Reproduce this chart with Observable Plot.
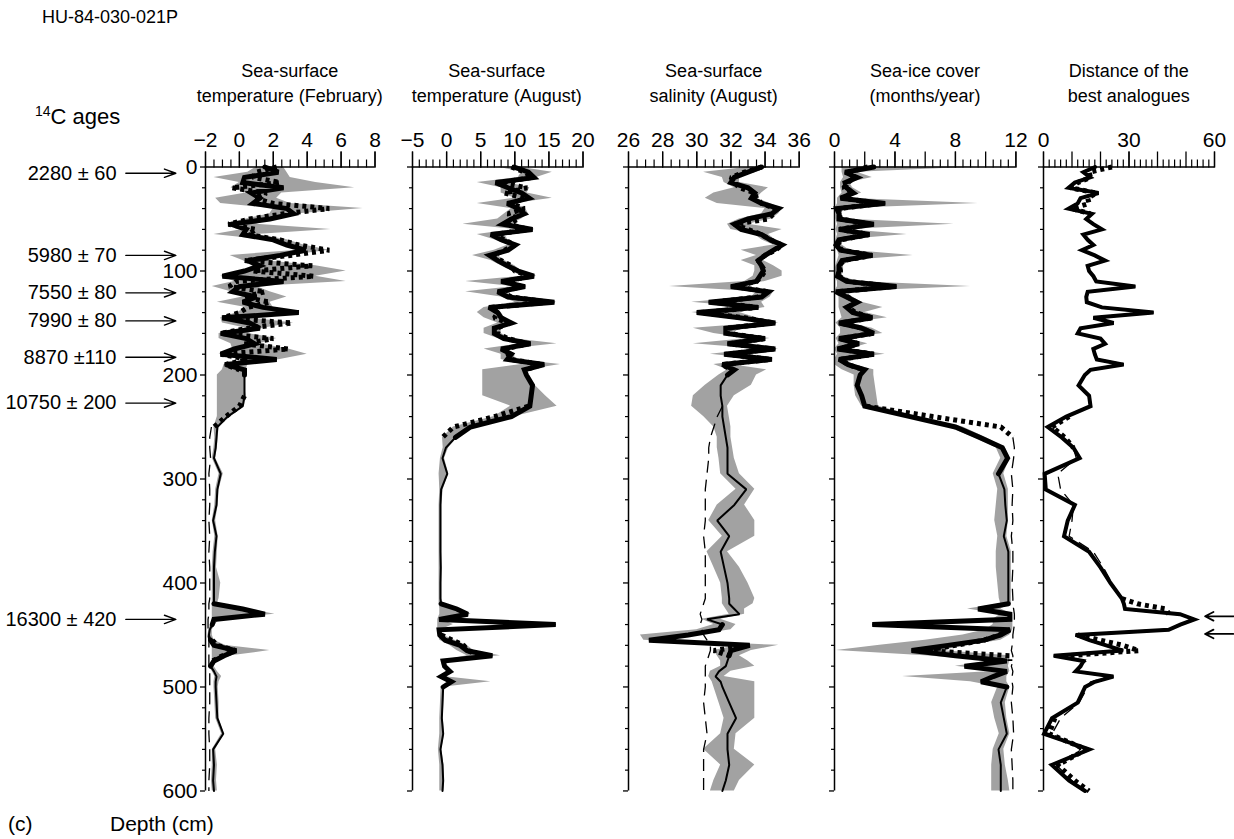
<!DOCTYPE html>
<html><head><meta charset="utf-8">
<script src="https://cdn.jsdelivr.net/npm/d3@7"></script>
<script src="https://cdn.jsdelivr.net/npm/@observablehq/plot@0.6"></script>
<style>
body{margin:0;background:#fff;font-family:"Liberation Sans",Arial,Helvetica,sans-serif;color:#000;}
#root{position:relative;width:1234px;height:839px;overflow:hidden;background:#fff;}
.lbl{position:absolute;white-space:nowrap;}
.title{position:absolute;text-align:center;font-size:18px;line-height:25px;transform:translateX(-50%);white-space:nowrap;}
svg{position:absolute;top:0;}
</style></head>
<body><div id="root"></div>
<script>
const _ = null;
// Core depths (cm)
const depth = [
0,5,10,15,20,25,30,35,40,45,
50,55,60,65,70,75,80,85,90,95,
100,105,110,115,120,125,130,135,140,145,
150,155,160,165,170,175,180,185,190,195,
200,210,220,230,240,250,260,270,280,295,
310,325,340,355,370,385,400,415,
420,425,430,435,440,445,450,455,460,465,
470,475,480,485,490,495,500,
515,530,545,560,575,590,600];

// Panel 1: SST February
const febSolid = [
1.5,2.3,0.3,0.2,2.6,0.7,1.2,0.8,2.8,3.2,
1.8,-0.5,0.4,0.2,2.0,2.8,3.9,2.4,0.5,1.2,
0.3,-1.0,2.6,0.0,-0.4,1.0,0.2,1.4,3.5,-1.0,
0.6,1.2,-1.1,0.4,0.9,-0.3,-1.1,2.2,-0.8,0.3,
0.3,0.3,0.3,0.2,-0.7,-1.3,-1.35,-1.4,-1.5,-1.1,
-1.3,-1.35,-1.55,-1.35,-1.45,-1.5,-1.5,-1.5,
-1.5,0.2,1.5,-1.5,-1.6,-1.75,-1.8,-1.7,-1.5,-0.2,
-0.9,-1.5,-1.7,-1.5,-1.35,-1.4,-1.4,
-1.35,-1.3,-0.95,-1.55,-1.5,-1.55,-1.5];
const febDotted = [
2.2,1.0,0.8,2.4,-0.45,1.6,0.9,2.0,5.3,2.6,
0.6,-0.65,1.0,0.5,2.4,3.5,5.3,3.0,0.3,4.3,
0.8,4.4,-0.2,-0.6,1.5,0.3,1.8,0.5,0.0,-1.0,
3.1,0.5,-1.1,2.0,0.3,2.9,-1.1,0.5,-0.85,0.0,
_,_,0.3,0.0,-0.8,-1.5,_,_,_,_,
_,_,_,_,_,_,_,_,
_,_,_,_,_,_,_,-1.6,-1.3,-0.2,
-1.0,-1.6,_,_,_,_,_,
_,_,_,_,_,_,_];
const febMax = [
2.6,2.8,3.0,4.5,6.8,2.5,2.2,3.0,7.3,3.5,
2.0,1.0,5.4,1.0,2.8,3.8,5.3,3.0,1.5,4.5,
6.3,4.5,6.3,1.0,1.8,2.8,1.8,2.0,3.6,0.5,
3.2,1.4,0.5,2.2,1.2,2.9,4.0,2.4,0.5,0.4,
0.3,0.3,0.4,0.3,-0.5,-1.2,-1.25,-1.3,-1.4,-0.95,
-1.2,-1.25,-1.4,-1.25,-1.3,-1.35,-1.1,-1.2,
-1.3,0.5,2.1,-1.2,-1.4,-1.6,-1.6,-1.5,-0.8,1.8,
-0.5,-1.3,-1.5,-1.3,-1.05,-1.2,-1.25,
-1.2,-1.2,-0.9,-1.4,-1.3,-1.35,-1.3];
const febMin = [
1.0,0.5,-1.5,0.0,-0.5,0.4,-1.4,-1.1,2.0,1.8,
0.4,-0.7,0.2,-1.5,1.5,2.6,3.5,-0.55,0.2,0.8,
0.2,-1.1,-0.3,-1.6,-0.5,0.2,-1.3,0.4,-0.1,-1.1,
-1.0,0.4,-1.2,-1.2,-0.5,-0.4,-1.2,0.4,-0.9,-1.0,
-1.3,-1.3,-1.3,-1.3,-1.3,-1.5,-1.45,-1.5,-1.6,-1.2,
-1.4,-1.45,-1.6,-1.45,-1.55,-1.6,-1.6,-1.6,
-1.6,-1.6,-1.6,-1.6,-1.7,-1.8,-1.85,-1.75,-1.6,-1.6,
-1.6,-1.6,-1.8,-1.6,-1.45,-1.5,-1.5,
-1.45,-1.4,-1.05,-1.6,-1.6,-1.65,-1.6];
const febDashed = [
_,_,_,_,_,_,_,_,_,_,
_,_,_,_,_,_,_,_,_,_,
_,_,_,_,_,_,_,_,_,_,
_,_,_,_,_,_,_,_,_,_,
_,_,_,_,_,-1.65,-1.75,-1.75,-1.7,-1.8,
-1.75,-1.75,-1.8,-1.75,-1.8,-1.75,-1.75,-1.75,
-1.8,-1.8,-1.8,-1.85,-1.85,-1.85,-1.85,-1.8,-1.8,-1.8,
-1.8,-1.8,-1.8,-1.75,-1.75,-1.75,-1.75,
-1.75,-1.8,-1.8,-1.75,-1.75,-1.8,-1.8];

// Panel 2: SST August
const augSolid = [
9.9,12.0,12.8,7.2,9.0,11.0,12.1,8.9,10.5,11.4,
9.5,8.2,12.6,6.5,8.0,10.1,9.0,6.3,7.5,8.9,
10.5,12.8,8.0,11.5,7.5,9.0,15.8,6.2,7.5,8.0,
9.5,7.0,7.0,8.4,12.3,8.0,9.5,8.9,14.3,11.4,
11.7,12.6,12.4,12.2,9.5,3.5,1.3,-0.1,-0.6,0.1,
-0.8,-0.9,-0.9,-0.9,-0.9,-0.85,-0.9,-0.9,
-0.8,1.5,3.1,-1.1,16.0,-1.1,-1.0,-0.2,2.0,3.0,
6.7,-0.5,-0.3,0.5,-0.8,0.7,-0.5,
-0.6,-0.7,-0.5,-0.9,-0.6,-0.5,-0.6];
const augDotted = [
9.5,11.5,12.5,8.0,11.8,8.5,11.5,9.5,11.4,9.0,
10.5,9.0,12.0,7.0,8.5,10.0,8.5,6.8,8.0,9.5,
10.0,12.5,8.5,11.0,8.0,9.5,15.0,6.5,7.5,7.0,
9.0,7.5,7.5,9.0,12.0,8.5,9.0,9.5,14.0,11.5,
_,_,_,12.0,7.0,1.0,-0.6,_,_,_,
_,_,_,_,_,_,_,_,
_,_,_,_,_,_,-0.8,0.9,2.5,3.1,
5.0,_,_,_,_,_,_,
_,_,_,_,_,_,_];
const augMax = [
10.5,15.5,13.2,9.0,12.2,11.8,15.5,10.0,11.6,12.0,
11.0,9.5,13.0,8.5,9.0,10.5,9.5,7.5,8.5,10.0,
11.0,13.2,9.0,11.8,8.5,10.0,16.2,7.0,8.0,8.5,
10.0,8.0,8.0,9.5,16.2,9.0,10.0,10.0,16.7,12.0,
12.0,13.0,14.5,16.2,10.0,4.0,1.6,0.3,-0.3,0.3,
-0.5,-0.7,-0.7,-0.7,-0.7,-0.7,-0.7,-0.7,
-0.6,2.0,3.6,-0.8,1.0,-0.8,-0.6,1.2,3.0,4.0,
7.9,-0.2,0.0,0.8,-0.5,6.5,-0.3,
-0.4,-0.5,-0.3,-0.7,-0.4,-0.3,-0.4];
const augMin = [
7.5,11.0,10.5,4.5,8.0,8.0,10.0,4.5,9.5,8.5,
7.5,2.4,10.0,4.5,7.0,9.0,7.0,3.8,6.5,8.0,
9.5,11.0,2.8,10.0,2.8,8.0,10.0,5.5,4.5,5.5,
7.5,5.5,5.5,7.5,11.0,5.5,8.0,8.0,11.0,5.3,
5.3,5.3,5.3,9.4,7.0,1.0,-0.6,-0.5,-0.9,-1.1,
-1.0,-1.1,-1.1,-1.1,-1.1,-1.1,-1.1,-1.1,
-1.1,-1.0,-1.0,-1.3,-1.3,-1.3,-1.2,-1.0,0.5,1.5,
3.0,-0.8,-0.6,0.2,-1.1,0.4,-0.8,
-0.9,-1.0,-1.0,-1.2,-1.0,-1.0,-1.0];

// Panel 3: SSS August
const salSolid = [
33.8,33.0,32.2,32.0,33.0,33.4,33.2,33.8,34.8,34.4,
33.0,32.2,32.6,33.8,34.3,35.0,34.5,34.0,33.6,33.8,
33.9,33.7,33.5,32.0,34.2,33.8,30.7,33.6,30.0,32.5,
34.6,31.7,31.7,34.0,31.8,34.6,31.6,34.4,31.5,32.2,
31.8,31.4,31.4,31.5,31.5,31.6,31.7,31.8,31.8,31.8,
32.9,32.2,31.2,31.9,31.4,31.6,31.8,31.9,
31.9,32.2,32.5,30.6,31.5,31.3,29.5,27.2,33.1,32.0,
31.9,31.8,31.7,31.3,31.1,31.4,31.5,
31.9,32.3,31.8,31.8,31.9,31.7,31.5];
const salDotted = [
33.8,32.8,32.0,32.2,32.5,33.4,33.5,33.8,34.6,34.5,
34.2,32.2,33.0,33.8,34.3,35.0,34.6,34.0,33.6,33.8,
34.0,33.8,33.5,32.2,34.2,33.6,31.0,33.6,30.2,32.8,
34.5,31.8,31.8,34.0,31.9,34.5,31.7,34.3,31.5,32.0,
_,_,_,_,_,_,_,_,_,_,
_,_,_,_,_,_,_,_,
_,_,_,_,_,_,_,_,33.0,31.0,
31.9,_,_,_,_,_,_,
_,_,_,_,_,_,_];
const salMax = [
34.2,33.5,32.5,32.5,34.2,33.8,33.5,34.3,35.0,34.8,
34.4,33.0,35.0,34.2,34.6,35.2,34.8,34.3,33.9,34.5,
35.0,35.0,34.0,32.5,34.5,34.3,33.8,34.0,32.5,33.5,
34.8,32.5,32.2,34.3,32.5,34.8,32.5,34.5,32.0,34.1,
33.5,33.2,32.2,31.8,31.9,32.0,32.0,32.1,32.2,32.5,
33.4,32.8,33.4,33.4,31.8,32.5,33.0,33.4,
33.3,32.8,32.8,31.4,32.3,32.0,30.0,28.0,34.8,33.2,
32.5,33.0,33.4,32.0,31.6,33.4,33.4,
33.4,33.4,32.3,32.2,33.4,32.5,32.2];
const salMin = [
33.2,30.4,31.5,31.6,32.2,31.0,30.5,31.2,34.0,33.8,
32.5,31.8,32.0,33.4,33.8,34.5,32.6,33.5,32.6,33.4,
33.4,33.3,32.8,28.4,33.5,33.2,29.7,33.0,29.7,32.0,
33.8,29.8,31.0,33.0,29.8,33.6,30.8,33.5,31.0,31.8,
31.3,30.5,29.8,29.7,30.4,31.0,31.2,31.2,31.3,31.4,
32.3,31.2,30.7,31.5,30.6,31.0,31.4,31.5,
31.5,31.7,31.9,30.3,31.0,30.0,26.7,26.9,32.5,31.0,
31.2,31.4,31.4,30.8,30.7,30.9,31.0,
31.3,31.6,31.4,30.4,31.4,31.0,30.8];
const salDashed = [
_,_,_,_,_,_,_,_,_,_,
_,_,_,_,_,_,_,_,_,_,
_,_,_,_,_,_,_,_,_,_,
_,_,_,_,_,_,_,_,_,_,
_,_,_,31.5,31.2,31.0,30.8,30.7,30.7,30.6,
30.5,30.5,30.5,30.4,30.5,30.5,30.5,30.5,
30.4,30.3,30.2,30.3,30.2,30.3,30.4,30.6,30.8,30.8,
30.7,30.6,30.5,30.5,30.5,30.5,30.5,
30.4,30.5,30.6,30.4,30.4,30.4,30.4];

// Panel 4: sea-ice cover
const iceSolid = [
2.6,0.7,1.5,0.7,0.8,1.25,0.4,3.35,0.15,0.3,
0.3,2.6,0.3,2.3,0.3,0.1,0.4,2.5,0.5,0.3,
0.3,0.2,0.8,4.1,0.1,0.8,1.5,0.8,1.2,2.5,
0.3,1.8,2.6,0.3,1.6,0.2,2.6,0.3,0.9,2.0,
1.7,1.5,1.8,2.0,5.0,8.0,9.6,11.1,11.45,10.85,
11.24,11.3,11.4,11.2,11.5,11.5,11.5,11.5,
11.5,9.5,11.6,11.6,2.5,11.6,11.0,9.9,7.5,5.1,
8.0,11.4,8.6,11.4,10.5,9.7,11.4,
11.0,11.2,11.4,10.85,11.0,11.0,11.0];
const iceDotted = [
2.2,0.9,1.3,0.9,0.6,1.2,0.5,3.0,0.3,0.3,
0.4,2.4,0.3,2.3,0.4,0.2,0.5,2.5,0.6,0.3,
0.4,0.3,0.9,3.8,0.2,0.9,1.4,0.9,1.4,2.5,
0.4,1.8,2.5,0.4,1.6,0.3,2.6,0.4,0.9,1.9,
_,_,_,2.1,6.5,11.0,11.8,_,_,_,
_,_,_,_,_,_,_,_,
_,_,_,_,_,11.6,10.9,9.9,8.0,6.0,
11.6,11.6,_,_,_,_,_,
_,_,_,_,_,_,_];
const iceMax = [
9.5,1.5,2.5,1.0,1.2,1.8,0.8,9.5,0.6,0.5,
0.6,7.9,0.8,4.8,0.6,0.5,1.0,5.2,1.0,0.6,
0.6,0.5,1.5,9.0,0.5,1.2,1.8,3.2,2.0,3.5,
1.0,2.5,3.2,0.8,2.2,1.0,3.35,0.8,1.2,2.6,
2.6,2.7,2.8,2.9,5.5,8.5,10.0,11.3,11.6,11.2,
11.5,11.5,11.5,11.4,11.7,11.7,11.7,11.7,
11.7,11.0,11.8,11.8,11.8,11.8,11.6,11.0,9.0,7.0,
11.6,11.6,11.5,11.6,11.4,11.4,11.6,
11.3,11.4,11.6,11.2,11.3,11.5,11.6];
const iceMin = [
0.5,0.5,0.6,0.4,0.4,0.5,0.2,0.2,0.05,0.1,
0.1,0.2,0.1,0.2,0.1,0.0,0.2,0.3,0.2,0.1,
0.0,0.0,0.2,0.2,0.0,0.3,0.3,0.3,0.4,0.5,
0.1,0.4,0.4,0.1,0.3,0.0,0.2,0.0,0.0,0.5,
1.3,1.3,1.4,1.8,4.5,7.5,9.2,10.7,11.0,10.5,
10.8,10.7,10.6,10.8,10.7,10.7,10.8,10.9,
11.0,8.8,11.0,10.5,10.5,10.0,8.5,6.0,3.0,0.13,
6.0,10.5,8.0,10.8,4.5,9.0,10.8,
10.4,10.6,10.9,10.5,10.4,10.4,10.4];
const iceDashed = [
_,_,_,_,_,_,_,_,_,_,
_,_,_,_,_,_,_,_,_,_,
_,_,_,_,_,_,_,_,_,_,
_,_,_,_,_,_,_,_,_,_,
_,_,_,_,_,_,11.8,11.9,11.85,11.7,
11.8,11.75,11.8,11.7,11.8,11.8,11.75,11.8,
11.8,11.85,11.9,11.9,11.9,11.85,11.8,11.8,11.75,11.7,
11.8,11.8,11.7,11.8,11.75,11.75,11.8,
11.7,11.8,11.85,11.7,11.75,11.8,11.8];

// Panel 5: distance of the best analogues
const distSolid = [
18.1,14.0,16.4,11.0,8.8,19.3,13.0,12.0,8.8,17.0,
15.0,17.5,20.5,14.0,15.5,17.5,13.5,18.0,21.6,15.5,
16.0,17.5,18.5,32.2,15.5,15.0,15.2,20.5,38.6,17.5,
24.6,13.0,12.0,20.0,21.6,17.5,18.0,18.7,28.1,16.5,
14.5,12.3,16.0,16.5,8.0,1.5,6.4,10.5,12.7,0.4,
0.8,11.0,8.5,7.2,16.0,20.0,23.5,27.5,
28.2,28.6,47.9,52.9,48.0,43.9,11.3,16.1,22.0,27.9,
3.6,14.0,13.0,11.3,24.5,18.0,14.6,
12.0,3.0,0.2,16.1,2.9,9.0,14.6];
const distDotted = [
24.0,16.0,16.5,12.0,9.5,18.5,15.5,16.0,10.0,16.5,
_,_,_,_,_,_,_,_,_,_,
_,_,_,_,_,_,_,_,_,_,
_,_,_,_,_,_,_,_,_,_,
_,_,_,_,9.0,3.0,7.5,10.5,_,_,
_,_,_,_,_,_,_,27.5,
33.0,43.0,44.0,_,_,_,12.0,20.0,28.0,33.5,
8.0,_,_,_,_,_,_,
_,4.0,2.0,15.0,5.0,11.0,16.0];
const distDashed = [
_,_,_,_,_,_,_,_,_,_,
_,_,_,_,_,_,_,_,_,_,
_,_,_,_,_,_,_,_,_,_,
_,_,_,_,_,_,_,_,_,_,
_,_,_,_,_,_,_,10.5,11.5,5.0,
6.0,10.5,10.0,9.0,17.5,21.0,24.0,27.0,
_,_,_,_,_,_,_,_,_,_,
_,15.0,12.5,12.5,23.0,16.5,15.5,
12.5,6.0,3.0,13.0,4.5,10.0,14.0];

// Age control points
const ageLabels = ["2280 ± 60","5980 ± 70","7550 ± 80","7990 ± 80","8870 ±110","10750 ± 200","16300 ± 420"];
const ageDepths = [6, 85, 121, 148, 183, 227, 435];
// Arrows at the right of the distance panel
const analogueArrowDepths = [432, 449];

// Axis tick labels
const febTicks = [-2,0,2,4,6,8];
const augTicks = [-5,0,5,10,15,20];
const salTicks = [26,28,30,32,34,36];
const iceTicks = [0,4,8,12];
const distTicks = [0,30,60];
const depthTicks = [0,100,200,300,400,500,600];

const titles = [
  ["Sea-surface","temperature (February)"],
  ["Sea-surface","temperature (August)"],
  ["Sea-surface","salinity (August)"],
  ["Sea-ice cover","(months/year)"],
  ["Distance of the","best analogues"]
];

function table(s, b, lo, hi, c) {
  return depth.map((d, i) => ({depth: d, solid: s[i], dotted: b ? b[i] : null,
    min: lo ? lo[i] : null, max: hi ? hi[i] : null, dashed: c ? c[i] : null}));
}
[febSolid,febDotted,febMax,febMin,febDashed,augSolid,augDotted,augMax,augMin,salSolid,salDotted,salMax,salMin,salDashed,
 iceSolid,iceDotted,iceMax,iceMin,iceDashed,distSolid,distDotted,distDashed].forEach((a,k)=>{ if(a.length!==depth.length) throw new Error("length mismatch "+k+" "+a.length); });

const panels = [
  {data: table(febSolid, febDotted, febMin, febMax, febDashed), domain:[-2,8], x0:205, x1:374.5, ticks:febTicks, major:2, minor:0.5, zones:[[0,200],[420,440],[455,480]], thick:5, thin:2},
  {data: table(augSolid, augDotted, augMin, augMax, null), domain:[-5,20], x0:411.5, x1:582, ticks:augTicks, major:5, minor:1, zones:[[0,260],[420,500]], thick:5, thin:2},
  {data: table(salSolid, salDotted, salMin, salMax, salDashed), domain:[26,36], x0:628.3, x1:799, ticks:salTicks, major:2, minor:0.5, zones:[[0,200],[440,470]], thick:5, thin:2},
  {data: table(iceSolid, iceDotted, iceMin, iceMax, iceDashed), domain:[0,12], x0:834.3, x1:1015.7, ticks:iceTicks, major:2, minor:0.5, zones:[[0,300],[420,500]], thick:5, thin:2},
  {data: table(distSolid, distDotted, null, null, distDashed), domain:[0,60], x0:1043.3, x1:1214.3, ticks:distTicks, major:10, minor:2, zones:[[0,600]], thick:4, thin:2.5}
];

const root = document.getElementById("root");
const yTop = 166.5, yBot = 790.5, H = 839;
const fmt = d => d < 0 ? "\u2212" + Math.abs(d) : String(d);
const inZones = (d, zones) => zones.some(([a,b]) => d >= a && d <= b);
const ages = ageLabels.map((t,i)=>({label:t, depth:ageDepths[i]}));
const NUM = 21;

panels.forEach((p, i) => {
  const mL = i === 0 ? 205 : 14;
  const mR = i === 4 ? 20 : 14;
  const pw = p.x1 - p.x0;
  const W = mL + pw + mR;
  const [lo, hi] = p.domain;
  const majors = d3.range(lo, hi + 1e-9, p.major);
  const minors = d3.range(lo, hi + 1e-9, p.minor).filter(v => !majors.some(m => Math.abs(m - v) < 1e-9));
  const minorDepth = d3.range(0, 601, 20).filter(v => v % 100 !== 0);
  const marks = [];
  if (i !== 4) marks.push(Plot.areaX(p.data, {y:"depth", x1:"min", x2:"max", fill:"#a2a2a2", curve:"linear"}));
  marks.push(
    Plot.line(p.data, {x:"dashed", y:"depth", stroke:"#000", strokeWidth:1.3, strokeDasharray:"12,7", strokeLinecap:"butt"}),
    Plot.line(p.data, {x:"solid", y:"depth", stroke:"#000", strokeWidth:p.thin, strokeLinejoin:"miter"}),
    Plot.line(p.data, {x:"solid", y: d => inZones(d.depth, p.zones) ? d.depth : NaN, stroke:"#000", strokeWidth:p.thick, strokeLinejoin:"miter", strokeMiterlimit:3}),
    Plot.line(p.data, {x:"dotted", y:"depth", stroke:"#000", strokeWidth:5, strokeDasharray:"4,4", strokeLinecap:"butt", strokeLinejoin:"miter"}),
    Plot.ruleY([0], {stroke:"#000", strokeWidth:1.5}),
    Plot.ruleX([lo], {stroke:"#000", strokeWidth:1.5}),
    Plot.axisX({anchor:"top", label:null, ticks:p.ticks, tickSize:16, tickPadding:4, tickFormat:fmt, strokeWidth:1.3, fontSize:NUM}),
    Plot.axisX({anchor:"top", label:null, ticks:majors, tickSize:16, tickFormat:()=>"", strokeWidth:1.3}),
    Plot.axisX({anchor:"top", label:null, ticks:minors, tickSize:8, tickFormat:()=>"", strokeWidth:1.2}),
    Plot.axisY({anchor:"left", label:null, ticks:depthTicks, tickSize:5, tickPadding:3, tickFormat: i === 0 ? (d => String(d)) : (()=>""), strokeWidth:1.3, fontSize:NUM}),
    Plot.axisY({anchor:"left", label:null, ticks:minorDepth, tickSize:3, tickFormat:()=>"", strokeWidth:1.2})
  );
  if (i === 0) {
    marks.push(
      Plot.text(ages, {y:"depth", text:"label", frameAnchor:"left", dx:-89, textAnchor:"end", fontSize:20}),
      Plot.arrow(ages, {x1: () => -6.7, x2: () => -3.75, y1:"depth", y2:"depth", stroke:"#000", strokeWidth:1.4, headLength:13, headAngle:40})
    );
  }
  if (i === 4) {
    marks.push(Plot.arrow(analogueArrowDepths, {x1: () => 66.6, x2: () => 56.7, y1: d => d, y2: d => d, stroke:"#000", strokeWidth:1.8, headLength:15, headAngle:55}));
  }
  const svg = Plot.plot({
    width: W, height: H,
    marginLeft: mL, marginRight: mR, marginTop: yTop, marginBottom: H - yBot,
    x: {domain: p.domain, range: [mL, mL + pw], label: null},
    y: {domain: [0, 600], range: [yTop, yBot], label: null},
    style: {background:"transparent", overflow:"visible", fontFamily:'"Liberation Sans", Arial, Helvetica, sans-serif', fontSize:NUM + "px", color:"#000"},
    marks
  });
  svg.style.position = "absolute";
  svg.style.left = (p.x0 - mL) + "px";
  svg.style.top = "0px";
  svg.style.maxWidth = "none";
  root.appendChild(svg);

  const t = document.createElement("div");
  t.className = "title";
  t.style.left = ((p.x0 + p.x1) / 2) + "px";
  t.style.top = "59px";
  t.innerHTML = titles[i][0] + "<br>" + titles[i][1];
  root.appendChild(t);
});

function addLabel(html, left, top, size) {
  const el = document.createElement("div");
  el.className = "lbl";
  el.style.left = left + "px";
  el.style.top = top + "px";
  el.style.fontSize = size + "px";
  el.innerHTML = html;
  root.appendChild(el);
}
addLabel("HU-84-030-021P", 42, 7, 18);
addLabel('<sup style="font-size:14px;vertical-align:8px">14</sup>C ages', 35, 103, 22);
addLabel("(c)", 8, 812, 21);
addLabel("Depth (cm)", 110, 812, 21);
</script>
</body></html>
